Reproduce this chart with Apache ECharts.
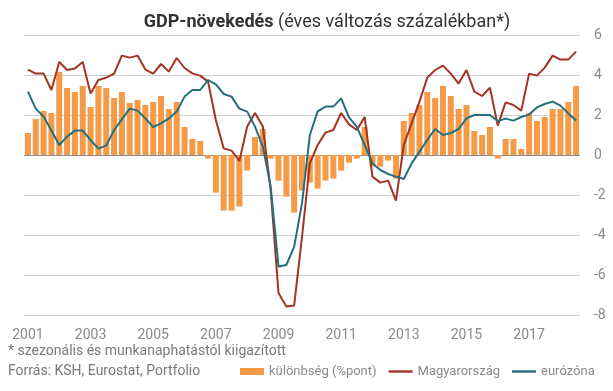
<!DOCTYPE html>
<html><head><meta charset="utf-8">
<script src="https://cdn.jsdelivr.net/npm/echarts@6/dist/echarts.min.js"></script>
<style>html,body{margin:0;padding:0;background:#fff}#c{width:613px;height:391px}</style>
</head><body><div id="c"></div>
<script>
// quarterly data 2001 Q1 .. 2018 Q3
const startYear = 2001;
const nQuarters = 71;
const categories = [];
for (let i = 0; i < nQuarters; i++) categories.push((startYear + Math.floor(i / 4)) + ' Q' + (i % 4 + 1));
const tickYears = ['2001','2003','2005','2007','2009','2011','2013','2015','2017'];

const kulonbseg = [1.1,1.8,2.2,2.1,4.15,3.35,3.15,3.45,2.4,3.45,3.35,2.85,3.15,2.6,2.75,2.5,2.65,2.95,2.3,2.65,
  1.4,0.8,0.7,-0.18,-1.88,-2.78,-2.78,-2.58,-0.78,0.9,1.3,-0.18,-1.28,-2.08,-2.88,-1.78,-1.38,-1.68,-1.28,-1.18,
  -0.78,-0.38,-0.18,1.4,-0.58,-0.58,-0.28,-1.18,1.7,2.1,2.5,3.15,2.85,3.45,2.95,2.3,2.5,1.2,1.0,1.4,
  -0.18,0.8,0.8,0.3,2.1,1.7,1.9,2.3,2.3,2.65,3.45];
const magyarorszag = [4.27,4.07,4.07,3.25,4.65,4.25,4.33,4.65,3.07,3.75,3.87,4.07,4.97,4.87,4.97,4.27,4.07,4.55,4.17,4.85,
  4.35,4.08,3.97,3.67,1.75,0.33,0.22,-0.3,1.42,2.1,1.42,-1.75,-6.9,-7.58,-7.52,-4.1,-0.42,0.5,1.12,1.25,
  2.1,1.53,1.25,1.9,-1.08,-1.38,-1.28,-2.28,0.5,1.58,2.67,3.87,4.25,4.47,4.07,3.57,4.25,3.17,2.95,3.37,
  1.47,2.63,2.5,2.22,4.07,3.97,4.37,4.97,4.77,4.77,5.17];
const eurozona = [3.17,2.32,1.92,1.22,0.5,0.92,1.22,1.22,0.75,0.32,0.47,1.25,1.78,2.32,2.22,1.83,1.4,1.58,1.83,2.17,
  2.92,3.25,3.25,3.75,3.53,3.05,2.92,2.32,2.17,1.42,0.42,-1.58,-5.58,-5.5,-4.58,-2.42,1.0,2.18,2.42,2.42,
  2.83,1.88,1.42,0.5,-0.42,-0.75,-0.95,-1.08,-1.2,-0.42,0.17,0.75,1.3,1.0,1.1,1.3,1.83,2.0,2.0,2.0,
  1.7,1.82,1.72,1.9,2.02,2.38,2.55,2.67,2.47,2.08,1.72];

const FONT = 'Roboto';
const chart = echarts.init(document.getElementById('c'), null, {renderer: 'canvas'});
chart.setOption({
  animation: false,
  textStyle: {fontFamily: FONT},
  title: {
    text: '{b|GDP-növekedés} {n|(éves változás százalékban*)}',
    left: 322, top: 8, textAlign: 'center',
    textStyle: {
      fontWeight: 'normal',
      rich: {
        b: {fontFamily: FONT, fontSize: 18, fontWeight: 'bold', color: '#333'},
        n: {fontFamily: FONT, fontSize: 18, fontWeight: 'normal', color: '#333'}
      }
    }
  },
  graphic: [
    {type: 'text', left: 8, top: 344, style: {text: '* szezonális és munkanaphatástól kiigazított', fill: '#7a7a7a', font: '14px Roboto'}},
    {type: 'text', left: 8, top: 364, style: {text: 'Forrás: KSH, Eurostat, Portfolio', fill: '#7a7a7a', font: '14px Roboto'}}
  ],
  legend: {
    left: 240, top: 365, padding: 0, itemGap: 12, itemWidth: 24, itemHeight: 7, width: 373,
    textStyle: {color: '#8a8a8a', fontSize: 13, fontFamily: FONT},
    data: [
      {name: 'különbség (%pont)', icon: 'path://M0,0h24v7h-24z'},
      {name: 'Magyarország', icon: 'path://M0,0h24v2.4h-24z'},
      {name: 'eurózóna', icon: 'path://M0,0h24v2.4h-24z'}
    ]
  },
  grid: {left: 24, right: 33, top: 35, bottom: 76, containLabel: false},
  xAxis: {
    type: 'category', data: categories, boundaryGap: true,
    axisLine: {show: false, onZero: false}, axisTick: {show: false},
    position: 'bottom',
    axisLabel: {
      interval: function (i) { return i % 8 === 0; },
      formatter: function (v, i) { const y = v.slice(0, 4); return tickYears.indexOf(y) >= 0 ? y : ''; },
      color: '#8a8a8a', fontSize: 14, fontFamily: FONT, margin: 13
    }
  },
  yAxis: {
    type: 'value', position: 'right', min: -8, max: 6, interval: 2,
    axisLine: {show: false}, axisTick: {show: false},
    axisLabel: {color: '#8a8a8a', fontSize: 14, fontFamily: FONT, margin: 14},
    splitLine: {lineStyle: {color: ['#cfcfcf','#cfcfcf','#cfcfcf','#cfcfcf','#8f8f8f','#cfcfcf','#cfcfcf','#cfcfcf'], width: 1.2}}
  },
  series: [
    {name: 'különbség (%pont)', type: 'bar', data: kulonbseg, barWidth: 6, itemStyle: {color: '#f59b47'}},
    {name: 'Magyarország', type: 'line', data: magyarorszag, symbol: 'none', lineStyle: {color: '#a33324', width: 2}, itemStyle: {color: '#a33324'}},
    {name: 'eurózóna', type: 'line', data: eurozona, symbol: 'none', lineStyle: {color: '#236f7d', width: 2}, itemStyle: {color: '#236f7d'}}
  ]
});
</script></body></html>
